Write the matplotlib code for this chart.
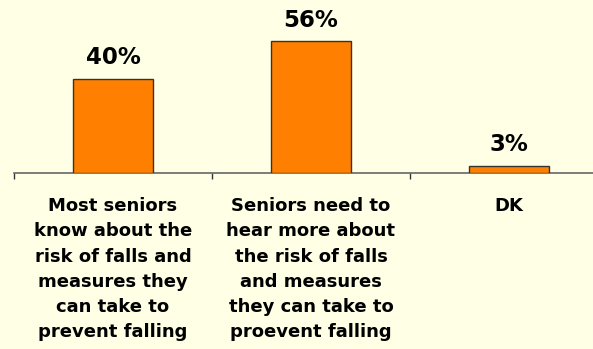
import matplotlib
matplotlib.use("Agg")
import matplotlib.pyplot as plt

categories = ["Most seniors\nknow about the\nrisk of falls and\nmeasures they\ncan take to\nprevent falling",
              "Seniors need to\nhear more about\nthe risk of falls\nand measures\nthey can take to\nproevent falling",
              "DK"]
values = [40, 56, 3]
value_labels = ["40%", "56%", "3%"]

bg = "#FFFFE6"
fig = plt.figure(figsize=(5.93, 3.49), dpi=100, facecolor=bg)
ax = fig.add_axes([14/593, (349-173)/349, (608-14)/593, 173/349])
ax.set_facecolor(bg)
ax.patch.set_alpha(0)

x = list(range(len(values)))
ax.bar(x, values, width=0.4, color="#FF8000", edgecolor="#333333", linewidth=1, zorder=3)
ax.set_xlim(-0.5, 2.5)
ax.set_ylim(0, 173/2.355)

for xi, v, lab in zip(x, values, value_labels):
    ax.annotate(lab, (xi, v), xytext=(0, 9.5), textcoords="offset pixels",
                ha="center", va="bottom", fontsize=16.5, fontweight="bold",
                family="DejaVu Sans", color="black")

for xi, lab in zip(x, categories):
    ax.annotate(lab, (xi, 0), xytext=(0, -24), textcoords="offset pixels",
                ha="center", va="top", fontsize=13, fontweight="bold",
                family="DejaVu Sans", linespacing=1.52, color="black",
                annotation_clip=False)

for s in ["top", "right", "left"]:
    ax.spines[s].set_visible(False)
ax.spines["bottom"].set_color("#666666")
ax.spines["bottom"].set_linewidth(1.2)
ax.set_yticks([])
ax.set_xticks([-0.5, 0.5, 1.5, 2.5])
ax.set_xticklabels([])
ax.tick_params(axis="x", direction="out", length=4.5, width=1, color="#333333")

fig.savefig("out.png", dpi=100, facecolor=bg)
